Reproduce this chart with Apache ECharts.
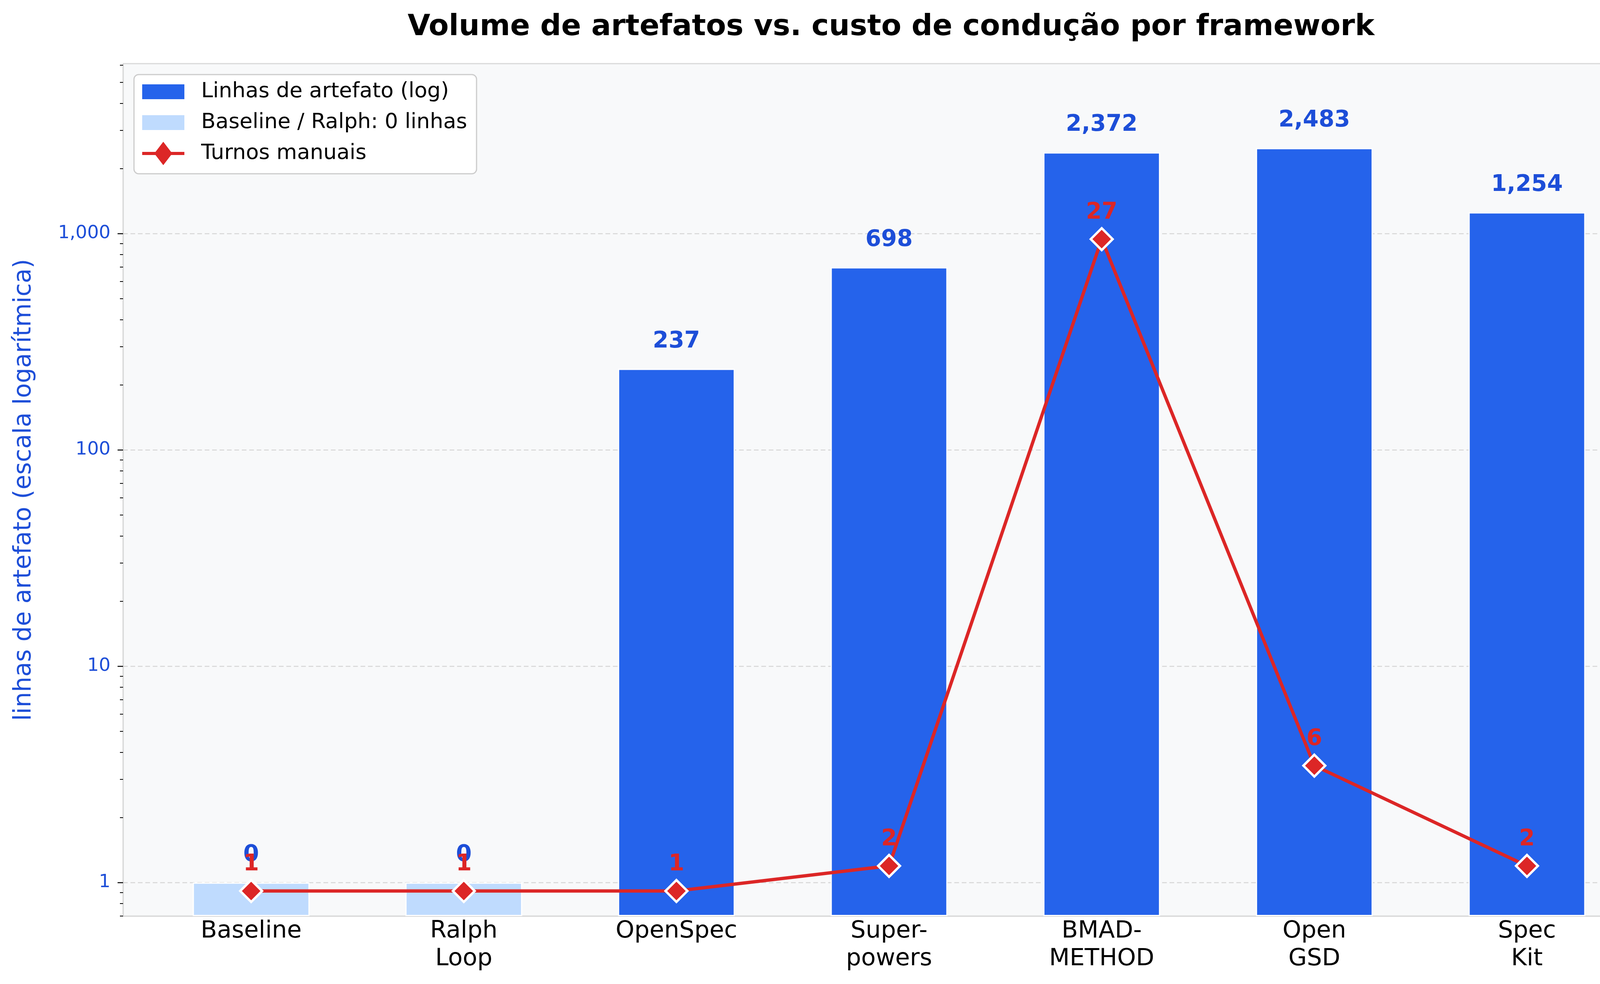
<!DOCTYPE html>
<html><head><meta charset="utf-8">
<script src="https://cdn.jsdelivr.net/npm/echarts@6/dist/echarts.min.js"></script>
<style>html,body{margin:0;padding:0;background:#fff}#c{width:4470px;height:2520px}</style>
</head><body><div id="c"></div>
<script>
// ---- data ----
const categories = ['Baseline', 'Ralph\nLoop', 'OpenSpec', 'Super-\npowers', 'BMAD-\nMETHOD', 'Open\nGSD', 'Spec\nKit'];
const artifactLines = [0, 0, 237, 698, 2372, 2483, 1254];
const manualTurns = [1, 1, 1, 2, 27, 6, 2];
const zeroPlaceholder = 1; // log axis stand-in for "0 linhas"
const leftTickValues = [1, 10, 100, 1000];
const leftMinorTickValues = [0.7, 0.8, 0.9, 2, 3, 4, 5, 6, 7, 8, 9, 20, 30, 40, 50, 60, 70, 80, 90,
  200, 300, 400, 500, 600, 700, 800, 900, 2000, 3000, 4000, 5000, 6000];
const rightTickValues = [0, 5, 10, 15, 20, 25, 30];
const seriesNames = ['Linhas de artefato (log)', 'Baseline / Ralph: 0 linhas', 'Turnos manuais'];
const titleText = 'Volume de artefatos vs. custo de condução por framework';
const leftAxisName = 'linhas de artefato (escala logarítmica)';
const rightAxisName = 'intervenções humanas (turnos manuais)';

// ---- styles ----
const FONT = 'DejaVu Sans';
const BLUE = '#2563eb', BLUE_DARK = '#1d4ed8', BLUE_LIGHT = '#bfdbfe', RED = '#dc2626';
const SPINE = '#d9d9d9';
const fmt = v => Number(v).toLocaleString('en-US');
const RECT_ICON = 'path://M0 0 M108 60 M0 11 L108 11 L108 49 L0 49 Z';
const LINE_ICON = 'path://M0 0 M108 60 M0 26 L108 26 L108 34 L0 34 Z M54 0 L77 30 L54 60 L31 30 Z';

const mainBars = [], lightBars = [];
artifactLines.forEach((v, i) => {
  if (v > 0) mainBars.push([i, v]); else lightBars.push([i, zeroPlaceholder]);
});
const lineData = manualTurns.map((v, i) => [i, v]);

const chart = echarts.init(document.getElementById('c'), null, {renderer: 'canvas', devicePixelRatio: 1});
const barLabel = {
  show: true, position: 'top', distance: 40, color: BLUE_DARK, fontFamily: FONT,
  fontWeight: 'bold', fontSize: 58, lineHeight: 60,
  formatter: p => fmt(artifactLines[p.value[0]])
};
chart.setOption({
  animation: false,
  backgroundColor: '#ffffff',
  title: {
    text: titleText, left: 2276, top: 28, textAlign: 'center',
    textStyle: {fontFamily: FONT, fontSize: 75, fontWeight: 'bold', color: '#000'}
  },
  legend: {
    left: 343, top: 191, orient: 'vertical',
    padding: [14, 24, 22, 21], itemGap: 19, itemWidth: 108, itemHeight: 60,
    backgroundColor: '#ffffff', borderColor: '#cccccc', borderWidth: 3, borderRadius: 12,
    textStyle: {fontFamily: FONT, fontSize: 54, lineHeight: 54, color: '#000', padding: [0, 0, 0, 38]},
    data: [
      {name: seriesNames[0], icon: RECT_ICON},
      {name: seriesNames[1], icon: RECT_ICON},
      {name: seriesNames[2], icon: LINE_ICON}
    ],
    itemStyle: {borderWidth: 0}
  },
  grid: {
    left: 315, right: 233, top: 163, bottom: 174, show: true,
    backgroundColor: '#f8f9fa', borderColor: SPINE, borderWidth: 3
  },
  xAxis: {
    type: 'value', min: -0.6025, max: 6.6025,
    axisLine: {show: true, onZero: false, lineStyle: {color: SPINE, width: 3}},
    axisTick: {show: false},
    splitLine: {show: false},
    axisLabel: {
      customValues: categories.map((c, i) => i),
      formatter: v => categories[Math.round(v)] || '',
      fontFamily: FONT, fontSize: 61, lineHeight: 71, color: '#000', margin: 4
    }
  },
  yAxis: [
    {
      type: 'log', logBase: 10, min: 0.7, max: 6100, startValue: 0.7, position: 'left',
      name: leftAxisName, nameLocation: 'middle', nameGap: 222,
      nameTextStyle: {fontFamily: FONT, fontSize: 62, color: BLUE_DARK},
      axisLine: {show: true, onZero: false, lineStyle: {color: SPINE, width: 3}},
      axisTick: {show: true, customValues: leftTickValues, length: 14, lineStyle: {color: '#000', width: 2.5}},
      axisLabel: {customValues: leftTickValues, formatter: v => fmt(v), fontFamily: FONT, fontSize: 47,
        color: BLUE_DARK, margin: 32},
      splitLine: {show: true, lineStyle: {color: '#d6d6d6', width: 2.5, type: [12, 7]}}
    },
    {
      type: 'log', logBase: 10, min: 0.7, max: 6100, position: 'left',
      axisLine: {show: false, onZero: false},
      axisTick: {show: true, customValues: leftMinorTickValues, length: 8, lineStyle: {color: '#000', width: 2}},
      axisLabel: {show: false},
      splitLine: {show: false}
    },
    {
      type: 'value', min: 0, max: 34, position: 'right',
      name: rightAxisName, nameLocation: 'middle', nameGap: 140, nameRotate: 90,
      nameTextStyle: {fontFamily: FONT, fontSize: 62, color: RED},
      axisLine: {show: true, onZero: false, lineStyle: {color: SPINE, width: 3}},
      axisTick: {show: true, customValues: rightTickValues, length: 14, lineStyle: {color: '#000', width: 2.5}},
      axisLabel: {customValues: rightTickValues, fontFamily: FONT, fontSize: 47, color: RED, margin: 34},
      splitLine: {show: false}
    }
  ],
  series: [
    {
      name: seriesNames[0], type: 'bar', xAxisIndex: 0, yAxisIndex: 0,
      barWidth: 299, barGap: '-100%', data: mainBars,
      itemStyle: {color: BLUE, borderColor: '#ffffff', borderWidth: 3},
      label: barLabel, z: 2
    },
    {
      name: seriesNames[1], type: 'bar', xAxisIndex: 0, yAxisIndex: 0,
      barWidth: 299, barGap: '-100%', data: lightBars,
      itemStyle: {color: BLUE_LIGHT, borderColor: '#ffffff', borderWidth: 3},
      label: barLabel, z: 2
    },
    {
      name: seriesNames[2], type: 'line', xAxisIndex: 0, yAxisIndex: 2,
      data: lineData, symbol: 'diamond', symbolSize: 56, showAllSymbol: true,
      lineStyle: {color: RED, width: 8.5},
      itemStyle: {color: RED, borderColor: '#ffffff', borderWidth: 6},
      label: {show: true, position: 'top', distance: 7, color: RED, fontFamily: FONT,
        fontWeight: 'bold', fontSize: 58, lineHeight: 60, formatter: p => String(p.value[1])},
      z: 5
    }
  ]
});
</script></body></html>
